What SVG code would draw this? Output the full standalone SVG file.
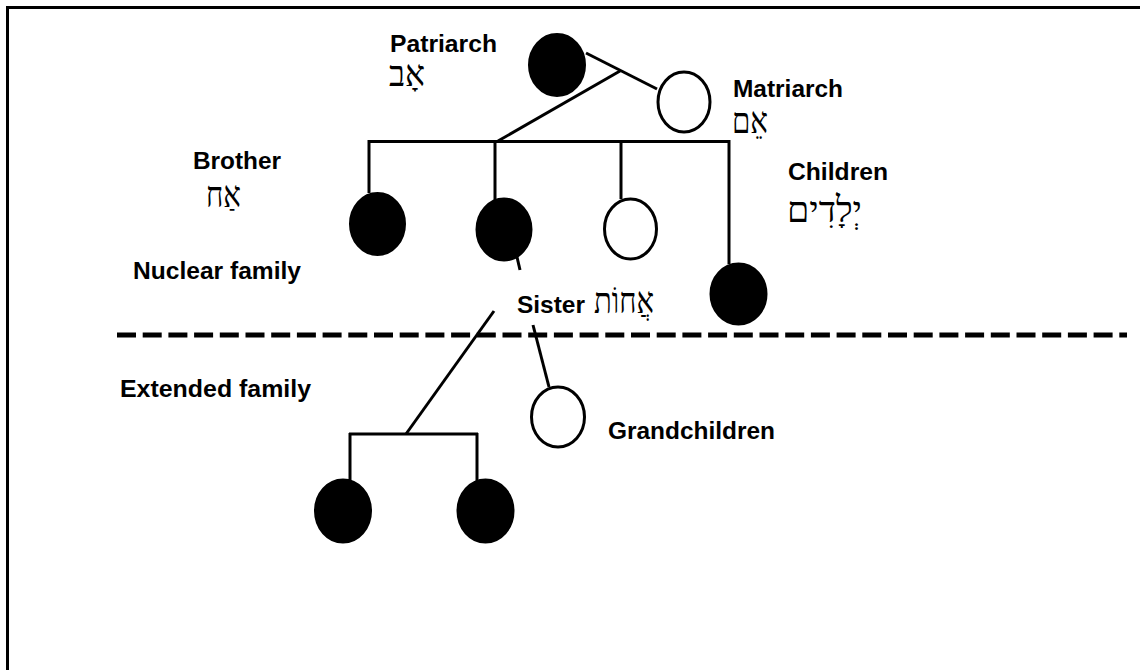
<svg xmlns="http://www.w3.org/2000/svg" width="1140" height="670" viewBox="0 0 1140 670">
<style>
.lbl{font-family:"Liberation Sans",Arial,sans-serif;font-weight:bold;font-size:23px;fill:#000}
.heb{font-family:"Liberation Serif","Times New Roman",serif;font-size:36px;fill:#000}
.ln{stroke:#000;stroke-width:3;fill:none}
.m{fill:#000;stroke:#000;stroke-width:3}
.f{fill:#fff;stroke:#000;stroke-width:3}
</style>
<rect x="0" y="0" width="1140" height="670" fill="#fff"/>
<path d="M7.5,672 V7.5 H1142" stroke="#000" stroke-width="3" fill="none"/>
<g id="connectors">
<line class="ln" x1="586" y1="53" x2="657" y2="89"/>
<line class="ln" x1="620" y1="71" x2="498" y2="141"/>
<line class="ln" x1="368" y1="141.5" x2="730" y2="141.5"/>
<line class="ln" x1="369" y1="140" x2="369" y2="193"/>
<line class="ln" x1="495" y1="140" x2="495" y2="200"/>
<line class="ln" x1="621" y1="140" x2="621" y2="199"/>
<line class="ln" x1="729" y1="140" x2="729" y2="264"/>
<line class="ln" x1="517" y1="257" x2="520" y2="270"/>
<line class="ln" x1="494" y1="311" x2="406" y2="434"/>
<line class="ln" x1="533" y1="325" x2="549" y2="387"/>
<line class="ln" x1="349" y1="434" x2="478" y2="434"/>
<line class="ln" x1="350" y1="433" x2="350" y2="482"/>
<line class="ln" x1="477" y1="433" x2="477" y2="482"/>
<line x1="117" y1="335" x2="1127" y2="335" stroke="#000" stroke-width="5" stroke-dasharray="19 6.7"/>
</g>
<g id="patriarch"><ellipse class="m" cx="557" cy="65" rx="27.5" ry="30.5"/>
<text class="lbl" x="390" y="52" textLength="107" lengthAdjust="spacingAndGlyphs">Patriarch</text>
<text class="heb" x="389" y="86" textLength="36" lengthAdjust="spacingAndGlyphs">אָב</text></g>
<g id="matriarch"><ellipse class="f" cx="684" cy="102" rx="26" ry="30"/>
<text class="lbl" x="733" y="97" textLength="110" lengthAdjust="spacingAndGlyphs">Matriarch</text>
<text class="heb" x="732" y="133" textLength="36" lengthAdjust="spacingAndGlyphs">אֵם</text></g>
<g id="brother"><ellipse class="m" cx="377.5" cy="224" rx="27" ry="30.5"/>
<text class="lbl" x="193" y="169" textLength="88" lengthAdjust="spacingAndGlyphs">Brother</text>
<text class="heb" x="206" y="207" textLength="35" lengthAdjust="spacingAndGlyphs">אַח</text></g>
<g id="sister"><ellipse class="m" cx="504" cy="229.5" rx="27" ry="30.5"/>
<text class="lbl" x="517" y="313" textLength="68" lengthAdjust="spacingAndGlyphs">Sister</text>
<text class="heb" x="594" y="313" textLength="60" lengthAdjust="spacingAndGlyphs">אֲחוֹת</text></g>
<g id="child3"><ellipse class="f" cx="630.5" cy="229" rx="26" ry="30"/></g>
<g id="child4"><ellipse class="m" cx="738.5" cy="294" rx="27.5" ry="30"/></g>
<g id="children"><text class="lbl" x="788" y="180" textLength="100" lengthAdjust="spacingAndGlyphs">Children</text>
<text class="heb" x="787" y="222" textLength="75" lengthAdjust="spacingAndGlyphs">יְלָדִים</text></g>
<g id="nuclear"><text class="lbl" x="133" y="279" textLength="168" lengthAdjust="spacingAndGlyphs">Nuclear family</text></g>
<g id="extended"><text class="lbl" x="120" y="397" textLength="191" lengthAdjust="spacingAndGlyphs">Extended family</text></g>
<g id="grandchild-open"><ellipse class="f" cx="558" cy="417" rx="26.5" ry="30"/>
<text class="lbl" x="608" y="439" textLength="167" lengthAdjust="spacingAndGlyphs">Grandchildren</text></g>
<g id="grandchild1"><ellipse class="m" cx="343" cy="511" rx="27.5" ry="31"/></g>
<g id="grandchild2"><ellipse class="m" cx="485.5" cy="511" rx="27.5" ry="31"/></g>
</svg>
